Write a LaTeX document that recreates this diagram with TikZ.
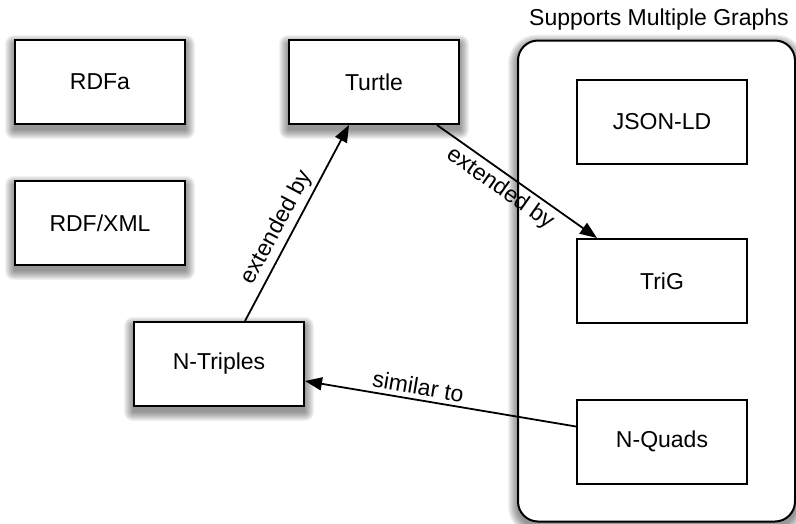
\documentclass[tikz,border=0pt]{standalone}
\usepackage{fontspec}
\setmainfont{Liberation Sans}
\usetikzlibrary{arrows.meta}
\pgfdeclarelayer{bg}
\pgfsetlayers{bg,main}
\tikzset{
  fmt/.style={draw=black, line width=2pt, fill=white, minimum width=170pt, minimum height=84pt, inner sep=0pt, font=\fontsize{23}{27}\selectfont},
  conn/.style={line width=1.8pt, -{Triangle[length=17pt,width=13pt]}},
  lbl/.style={font=\fontsize{23}{27}\selectfont, sloped, inner sep=4pt},
  shadelayer/.style={fill=black, opacity=0.05},
}
\begin{document}
\begin{tikzpicture}[x=1pt,y=1pt]
\useasboundingbox (0,0) rectangle (796,-523);
% container
\node[draw=black, line width=2pt, fill=white, rounded corners=20pt, minimum width=277pt, minimum height=481pt, inner sep=0pt] (grp) at (656.5,-281) {};
\node[font=\fontsize{23}{27}\selectfont, inner sep=0pt] (title) at (659,-20) {Supports Multiple Graphs};
% nodes
\node[fmt] (rdfa) at (100,-82) {RDFa};
\node[fmt] (rdfxml) at (100,-223) {RDF/XML};
\node[fmt] (turtle) at (374,-82) {Turtle};
\node[fmt] (ntriples) at (219,-364) {N-Triples};
\node[fmt] (jsonld) at (662,-122) {JSON-LD};
\node[fmt] (trig) at (662,-281) {TriG};
\node[fmt] (nquads) at (662,-441.5) {N-Quads};
% shadows
\begin{pgfonlayer}{bg}
\foreach \n in {rdfa,rdfxml,turtle,ntriples}{
  \foreach \k in {0,...,9}{
    \fill[shadelayer, rounded corners=\k pt] ([xshift=-\k pt, yshift=-5pt-\k pt]\n.south west) rectangle ([xshift=\k pt, yshift=-5pt+\k pt]\n.north east);
  }
}
\foreach \k in {0,...,9}{
  \fill[shadelayer, rounded corners=20pt+\k pt] ([xshift=-\k pt, yshift=-4pt-\k pt]grp.south west) rectangle ([xshift=\k pt, yshift=-4pt+\k pt]grp.north east);
}
\end{pgfonlayer}
% connectors
\draw[conn] ([xshift=26pt]ntriples.north) -- node[lbl, above, pos=0.44] {extended by} ([xshift=-25pt]turtle.south);
\draw[conn] ([xshift=63pt]turtle.south) -- node[lbl, below, pos=0.45] {extended by} ([xshift=-65pt]trig.north);
\draw[conn] ([yshift=15pt]nquads.west) -- node[lbl, above, pos=0.59] {similar to} ([yshift=-17pt]ntriples.east);
\end{tikzpicture}
\end{document}
